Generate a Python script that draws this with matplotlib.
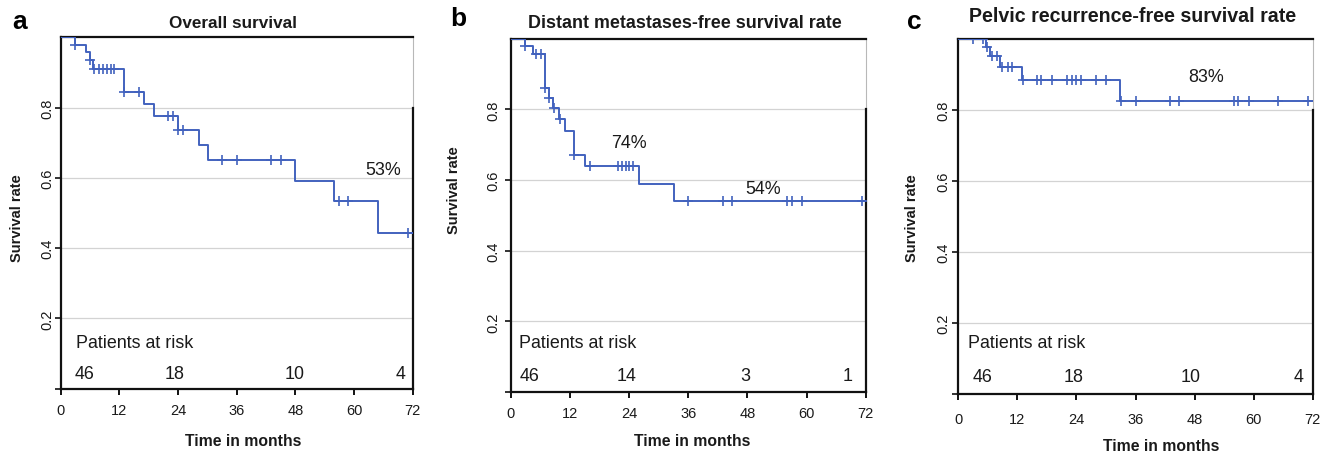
import numpy as np
import matplotlib
matplotlib.use("Agg")
import matplotlib.pyplot as plt

plt.rcParams['font.family'] = ['Liberation Sans', 'DejaVu Sans']

# ---------------- data ----------------
titles = ["Overall survival", "Distant metastases-free survival rate",
          "Pelvic recurrence-free survival rate"]
letters = ["a", "b", "c"]

# step functions (drop times, survival after each time)
times_a = [0, 2.85, 5.2, 5.9, 6.7, 12.9, 17.0, 19.1, 23.9, 28.2, 30.1, 48.0, 56.0, 65.0, 72]
surv_a = [1.0, 0.978, 0.958, 0.935, 0.909, 0.845, 0.810, 0.775, 0.736, 0.693, 0.650, 0.591, 0.533, 0.443, 0.443]
cens_a = [2.95, 6.0, 6.9, 7.8, 8.7, 9.5, 10.3, 11.0, 13.0, 16.0, 22.0, 23.0, 24.0, 25.0,
          32.9, 36.0, 43.0, 45.0, 57.0, 58.8, 71.1]

times_b = [0, 2.85, 4.6, 6.95, 7.7, 8.6, 9.8, 11.0, 12.8, 15.1, 26.0, 33.2, 72]
surv_b = [1.0, 0.980, 0.957, 0.860, 0.832, 0.803, 0.773, 0.740, 0.671, 0.639, 0.589, 0.540, 0.540]
cens_b = [2.95, 5.1, 6.1, 7.0, 7.8, 8.85, 10.0, 12.9, 16.1, 21.8, 22.6, 23.3, 24.0, 24.9,
          36.0, 43.0, 44.9, 56.0, 57.0, 59.0, 71.2]

times_c = [0, 5.6, 6.4, 8.5, 13.0, 32.85, 72]
surv_c = [1.0, 0.977, 0.951, 0.920, 0.885, 0.826, 0.826]
cens_c = [3.05, 4.96, 5.8, 6.8, 7.8, 8.8, 10.0, 11.0, 13.1, 15.9, 16.9, 19.0, 22.0, 23.0,
          23.9, 24.9, 28.0, 30.0, 33.0, 36.0, 43.0, 44.9, 56.0, 56.9, 59.1, 65.0, 71.1]

risk_a = ["46", "18", "10", "4"]
risk_b = ["46", "14", "3", "1"]
risk_c = ["46", "18", "10", "4"]

pct_a = ["53%"]
pct_b = ["74%", "54%"]
pct_c = ["83%"]

xticks = [0, 12, 24, 36, 48, 60, 72]
yticks = [0, 0.2, 0.4, 0.6, 0.8]
ytick_labels = ["", "0.2", "0.4", "0.6", "0.8"]

# ---------------- layout ----------------
W, H = 1337, 456
BLUE = '#4262BE'
TXT = '#1a1a1a'

panels = [
    dict(times=times_a, surv=surv_a, cens=cens_a, risk=risk_a, pct=pct_a,
         rect=[60.7, 38.3, 412.7, 389.6],
         risk_x=[4.97, 23.2, 47.9, 69.6], risk_y=0.042, par_x=3.1, par_y=0.13,
         pct_xy=[(65.9, 0.625)], title_xy=(232.7, 23), title_fs=12.3,
         letter_xy=(19.5, 22), ylab_xy=(17, 218), xlab_xy=(243, 441.7),
         xpad=6.5, ypad=0.2),
    dict(times=times_b, surv=surv_b, cens=cens_b, risk=risk_b, pct=pct_b,
         rect=[510.7, 39.7, 865.7, 393.0],
         risk_x=[3.8, 23.4, 47.5, 68.3], risk_y=0.046, par_x=1.76, par_y=0.139,
         pct_xy=[(23.9, 0.705), (51.1, 0.577)], title_xy=(685, 23), title_fs=12.9,
         letter_xy=(458.5, 19), ylab_xy=(454, 190), xlab_xy=(692, 441.7),
         xpad=6.0, ypad=3.3),
    dict(times=times_c, surv=surv_c, cens=cens_c, risk=risk_c, pct=pct_c,
         rect=[958.3, 40.0, 1312.7, 395.0],
         risk_x=[4.95, 23.5, 47.1, 69.1], risk_y=0.05, par_x=1.9, par_y=0.144,
         pct_xy=[(50.3, 0.895)], title_xy=(1133, 16), title_fs=14.1,
         letter_xy=(914, 22), ylab_xy=(912, 218), xlab_xy=(1161, 446.7),
         xpad=9.0, ypad=1.6),
]

fig = plt.figure(figsize=(W / 100, H / 100), dpi=100)

def fx(px):
    return px / W

def fy(py):
    return 1 - py / H

for i, p in enumerate(panels):
    l, t, r, b = p['rect']
    ax = fig.add_axes([fx(l), fy(b), (r - l) / W, (b - t) / H])
    ax.set_xlim(0, 72)
    ax.set_ylim(0, 1)

    times = np.array(p['times'])
    surv = np.array(p['surv'])
    ax.step(times, surv, where='post', color=BLUE, lw=1.4, zorder=3)
    cens = np.array(p['cens'])
    idx = np.searchsorted(times, cens, side='right') - 1
    ax.plot(cens, surv[idx], ls='none', marker='+', ms=6.5, mew=1.2,
            color=BLUE, zorder=4)

    # grid
    for gy in yticks[1:]:
        ax.axhline(gy, color='#d3d3d3', lw=0.9, zorder=1)

    # spines
    for s in ['left', 'bottom', 'top', 'right']:
        ax.spines[s].set_linewidth(1.6)
        ax.spines[s].set_color('#111111')
    ax.spines['right'].set_bounds(0, 0.8)
    ax.axvline(72, ymin=0.8, ymax=1.0, color='#b8b8b8', lw=0.8, clip_on=False)

    ax.set_xticks(xticks)
    ax.set_xticklabels([str(v) for v in xticks])
    ax.set_yticks(yticks)
    ax.set_yticklabels(ytick_labels)
    ax.tick_params(axis='x', direction='out', length=4, width=1.4,
                   labelsize=10.5, pad=p['xpad'], colors='#111111', labelcolor=TXT)
    ax.tick_params(axis='y', direction='out', length=4, width=1.2,
                   labelsize=10.5, pad=p['ypad'], labelrotation=90,
                   colors='#111111', labelcolor=TXT)
    for lab in ax.get_yticklabels():
        lab.set_va('center')

    # annotations
    ax.text(p['par_x'], p['par_y'], "Patients at risk", fontsize=12.9,
            color=TXT, ha='left', va='center')
    for xx, lab in zip(p['risk_x'], p['risk']):
        ax.text(xx, p['risk_y'], lab, fontsize=12.9, color=TXT,
                ha='center', va='center')
    for (xx, yy), lab in zip(p['pct_xy'], p['pct']):
        ax.text(xx, yy, lab, fontsize=12.9, color=TXT, ha='center', va='center')

    # titles and labels
    fig.text(fx(p['title_xy'][0]), fy(p['title_xy'][1]), titles[i],
             fontsize=p['title_fs'], fontweight='bold', color=TXT,
             ha='center', va='center')
    fig.text(fx(p['letter_xy'][0]), fy(p['letter_xy'][1]), letters[i],
             fontsize=19, fontweight='bold', color='#000000',
             ha='center', va='center')
    fig.text(fx(p['ylab_xy'][0]), fy(p['ylab_xy'][1]), "Survival rate",
             fontsize=10.5, fontweight='bold', color=TXT, rotation=90,
             ha='center', va='center')
    fig.text(fx(p['xlab_xy'][0]), fy(p['xlab_xy'][1]), "Time in months",
             fontsize=11.3, fontweight='bold', color=TXT,
             ha='center', va='center')

fig.savefig("out.png", dpi=100)
